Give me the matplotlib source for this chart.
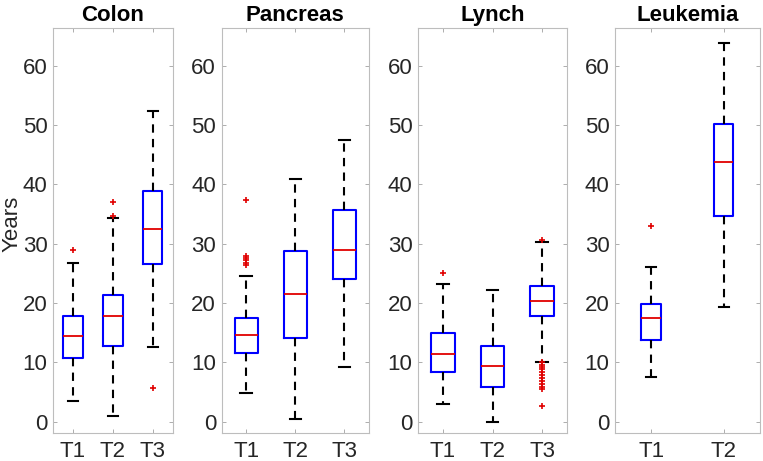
import matplotlib
matplotlib.use('Agg')
import matplotlib.pyplot as plt

plt.rcParams['font.family'] = ['Liberation Sans', 'DejaVu Sans']

# group names per panel
titles = ['Colon', 'Pancreas', 'Lynch', 'Leukemia']
labels = [['T1', 'T2', 'T3'], ['T1', 'T2', 'T3'], ['T1', 'T2', 'T3'], ['T1', 'T2']]

# box statistics: low whisker, q1, median, q3, high whisker
colon_stats = [[3.5, 10.8, 14.4, 17.8, 26.8],
               [0.9, 12.7, 17.8, 21.4, 34.3],
               [12.5, 26.5, 32.5, 38.8, 52.4]]
colon_fliers = [[29.0], [34.6, 37.0], [5.7]]

pancreas_stats = [[4.8, 11.6, 14.6, 17.5, 24.6],
                  [0.4, 14.1, 21.5, 28.7, 40.9],
                  [9.2, 24.0, 29.0, 35.7, 47.4]]
pancreas_fliers = [[26.4, 26.8, 27.2, 27.6, 27.9, 37.3], [], []]

lynch_stats = [[3.0, 8.4, 11.4, 15.0, 23.2],
               [0.0, 5.9, 9.4, 12.7, 22.1],
               [10.1, 17.8, 20.3, 22.9, 30.3]]
lynch_fliers = [[25.1], [],
                [30.6, 10.0, 9.6, 9.2, 8.8, 8.3, 7.8, 7.3, 6.9, 6.4, 5.9, 5.5, 2.6]]

leukemia_stats = [[7.5, 13.8, 17.4, 19.8, 26.1],
                  [19.4, 34.7, 43.7, 50.1, 63.8]]
leukemia_fliers = [[33.0], []]

all_stats = [colon_stats, pancreas_stats, lynch_stats, leukemia_stats]
all_fliers = [colon_fliers, pancreas_fliers, lynch_fliers, leukemia_fliers]

# axes rectangles in figure fractions (left, bottom, width, height)
rects = [[0.0695, 0.061, 0.157, 0.879],
         [0.2905, 0.061, 0.193, 0.879],
         [0.548, 0.061, 0.195, 0.879],
         [0.806, 0.061, 0.190, 0.879]]
box_w = [0.48, 0.47, 0.47, 0.27]

fig = plt.figure(figsize=(7.63, 4.61), dpi=100)

for i in range(4):
    ax = fig.add_axes(rects[i])
    stats = []
    for s, f in zip(all_stats[i], all_fliers[i]):
        stats.append(dict(whislo=s[0], q1=s[1], med=s[2], q3=s[3], whishi=s[4], fliers=f))
    ax.bxp(stats, widths=box_w[i], showfliers=True,
           boxprops=dict(color='#0000ff', linewidth=1.5),
           medianprops=dict(color='#e00000', linewidth=1.3),
           whiskerprops=dict(color='black', linestyle=(0, (4, 3)), linewidth=1.5),
           capprops=dict(color='black', linewidth=1.5),
           flierprops=dict(marker='+', markeredgecolor='#e00000', markersize=4, markeredgewidth=1.2))
    ax.set_xlim(0.5, len(labels[i]) + 0.5)
    ax.set_ylim(-1.9, 66.4)
    ax.set_yticks([0, 10, 20, 30, 40, 50, 60])
    ax.set_xticks(range(1, len(labels[i]) + 1))
    ax.set_xticklabels(labels[i])
    ax.tick_params(direction='in', top=True, right=True, length=3, width=0.6,
                   color='#a0a0a0', labelsize=16, labelcolor='#262626', pad=4)
    ax.tick_params(axis='x', pad=6)
    for sp in ax.spines.values():
        sp.set_color('#bdbdbd')
        sp.set_linewidth(0.8)
    ax.set_title(titles[i], fontsize=16, fontweight='bold', pad=5)
    if i == 0:
        ax.set_ylabel('Years', fontsize=16, color='#262626')
        ax.yaxis.set_label_coords(-0.255, 0.517)

fig.savefig('out.png', dpi=100)
